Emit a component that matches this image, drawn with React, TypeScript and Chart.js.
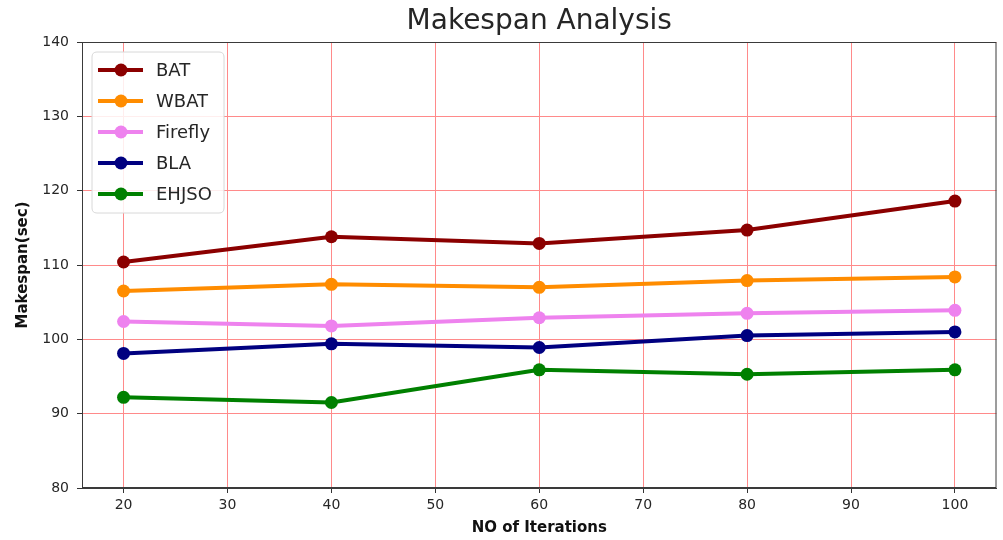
import React, { useEffect, useRef } from "react";
import { Chart, registerables } from "chart.js";

Chart.register(...registerables);

const iterations = [20, 40, 60, 80, 100];
const seriesNames = ["BAT", "WBAT", "Firefly", "BLA", "EHJSO"];
const batValues = [110.4, 113.8, 112.9, 114.7, 118.6];
const wbatValues = [106.5, 107.4, 107.0, 107.9, 108.4];
const fireflyValues = [102.4, 101.8, 102.9, 103.5, 103.9];
const blaValues = [98.1, 99.4, 98.9, 100.5, 101.0];
const ehjsoValues = [92.2, 91.5, 95.9, 95.3, 95.9];
const seriesColors = ["#8B0000", "#FF8C00", "#EE82EE", "#000080", "#008000"];
const allValues = [batValues, wbatValues, fireflyValues, blaValues, ehjsoValues];

const FONT = "'DejaVu Sans', sans-serif";
const GRID = "#ff8a8a";

const framePlugin = {
  id: "frameAndLegend",
  afterDraw(chart: any) {
    const { ctx, chartArea } = chart;
    const { left, right, top, bottom } = chartArea;
    ctx.save();
    // frame
    ctx.strokeStyle = "#3a3a3a";
    ctx.lineWidth = 1;
    ctx.strokeRect(left + 0.5, top + 0.5, right - left - 1, bottom - top - 1);
    // title
    ctx.fillStyle = "#262626";
    ctx.font = `28px ${FONT}`;
    ctx.textAlign = "center";
    ctx.textBaseline = "middle";
    ctx.fillText("Makespan Analysis", (left + right) / 2, 22);
    // legend
    const bx = left + 10, by = top + 10, bw = 132, bh = 161;
    const r = 5;
    ctx.beginPath();
    ctx.moveTo(bx + r, by);
    ctx.lineTo(bx + bw - r, by);
    ctx.quadraticCurveTo(bx + bw, by, bx + bw, by + r);
    ctx.lineTo(bx + bw, by + bh - r);
    ctx.quadraticCurveTo(bx + bw, by + bh, bx + bw - r, by + bh);
    ctx.lineTo(bx + r, by + bh);
    ctx.quadraticCurveTo(bx, by + bh, bx, by + bh - r);
    ctx.lineTo(bx, by + r);
    ctx.quadraticCurveTo(bx, by, bx + r, by);
    ctx.closePath();
    ctx.fillStyle = "rgba(255,255,255,0.85)";
    ctx.fill();
    ctx.strokeStyle = "#d8d8d8";
    ctx.stroke();
    chart.data.datasets.forEach((ds: any, i: number) => {
      const y = by + 18 + i * 31;
      ctx.strokeStyle = ds.borderColor;
      ctx.lineWidth = 4;
      ctx.beginPath();
      ctx.moveTo(bx + 6, y);
      ctx.lineTo(bx + 51, y);
      ctx.stroke();
      ctx.fillStyle = ds.borderColor;
      ctx.beginPath();
      ctx.arc(bx + 29, y, 6.5, 0, Math.PI * 2);
      ctx.fill();
      ctx.fillStyle = "#262626";
      ctx.font = `18px ${FONT}`;
      ctx.textAlign = "left";
      ctx.textBaseline = "middle";
      ctx.fillText(ds.label, bx + 64, y + 1);
    });
    ctx.restore();
  },
};

export default function App() {
  const ref = useRef<HTMLCanvasElement>(null);
  useEffect(() => {
    if (!ref.current) return;
    const chart = new Chart(ref.current, {
      type: "line",
      data: {
        datasets: seriesNames.map((name, i) => ({
          label: name,
          data: iterations.map((x, j) => ({ x, y: allValues[i][j] })),
          borderColor: seriesColors[i],
          backgroundColor: seriesColors[i],
          pointBackgroundColor: seriesColors[i],
          pointBorderWidth: 0,
          pointRadius: 6.5,
          borderWidth: 4,
          tension: 0,
          order: seriesNames.length - i,
        })),
      },
      options: {
        responsive: false,
        animation: false,
        devicePixelRatio: 1,
        layout: { padding: { left: 0, right: 5, top: 42, bottom: 0 } },
        plugins: { legend: { display: false }, tooltip: { enabled: false }, title: { display: false } },
        scales: {
          x: {
            type: "linear",
            min: 16,
            max: 104,
            afterFit(scale: any) {
              scale.height = 52;
            },
            ticks: { stepSize: 10, includeBounds: false, color: "#262626", padding: 4, font: { family: FONT, size: 14 } },
            grid: { color: GRID, lineWidth: 1, tickLength: 5, tickColor: "#333", drawTicks: true },
            border: { display: true, color: "#3a3a3a", width: 1 },
            title: { display: true, text: "NO of Iterations", color: "#111", font: { family: FONT, size: 15, weight: "bold" }, padding: { top: 0, bottom: 3 } },
          },
          y: {
            type: "linear",
            min: 80,
            max: 140,
            afterFit(scale: any) {
              scale.width = 82;
            },
            ticks: { stepSize: 10, color: "#262626", padding: 8, font: { family: FONT, size: 14 } },
            grid: { color: GRID, lineWidth: 1, tickLength: 5, tickColor: "#333", drawTicks: true },
            border: { display: true, color: "#3a3a3a", width: 1 },
            title: { display: true, text: "Makespan(sec)", color: "#111", font: { family: FONT, size: 15, weight: "bold" }, padding: { top: 14, bottom: 0 } },
          },
        },
      },
      plugins: [framePlugin],
    } as any);
    return () => chart.destroy();
  }, []);
  return (
    <div style={{ position: "absolute", left: 0, top: 0, width: 1003, height: 540, background: "#fff" }}>
      <canvas ref={ref} width={1003} height={540} style={{ display: "block" }} />
    </div>
  );
}
